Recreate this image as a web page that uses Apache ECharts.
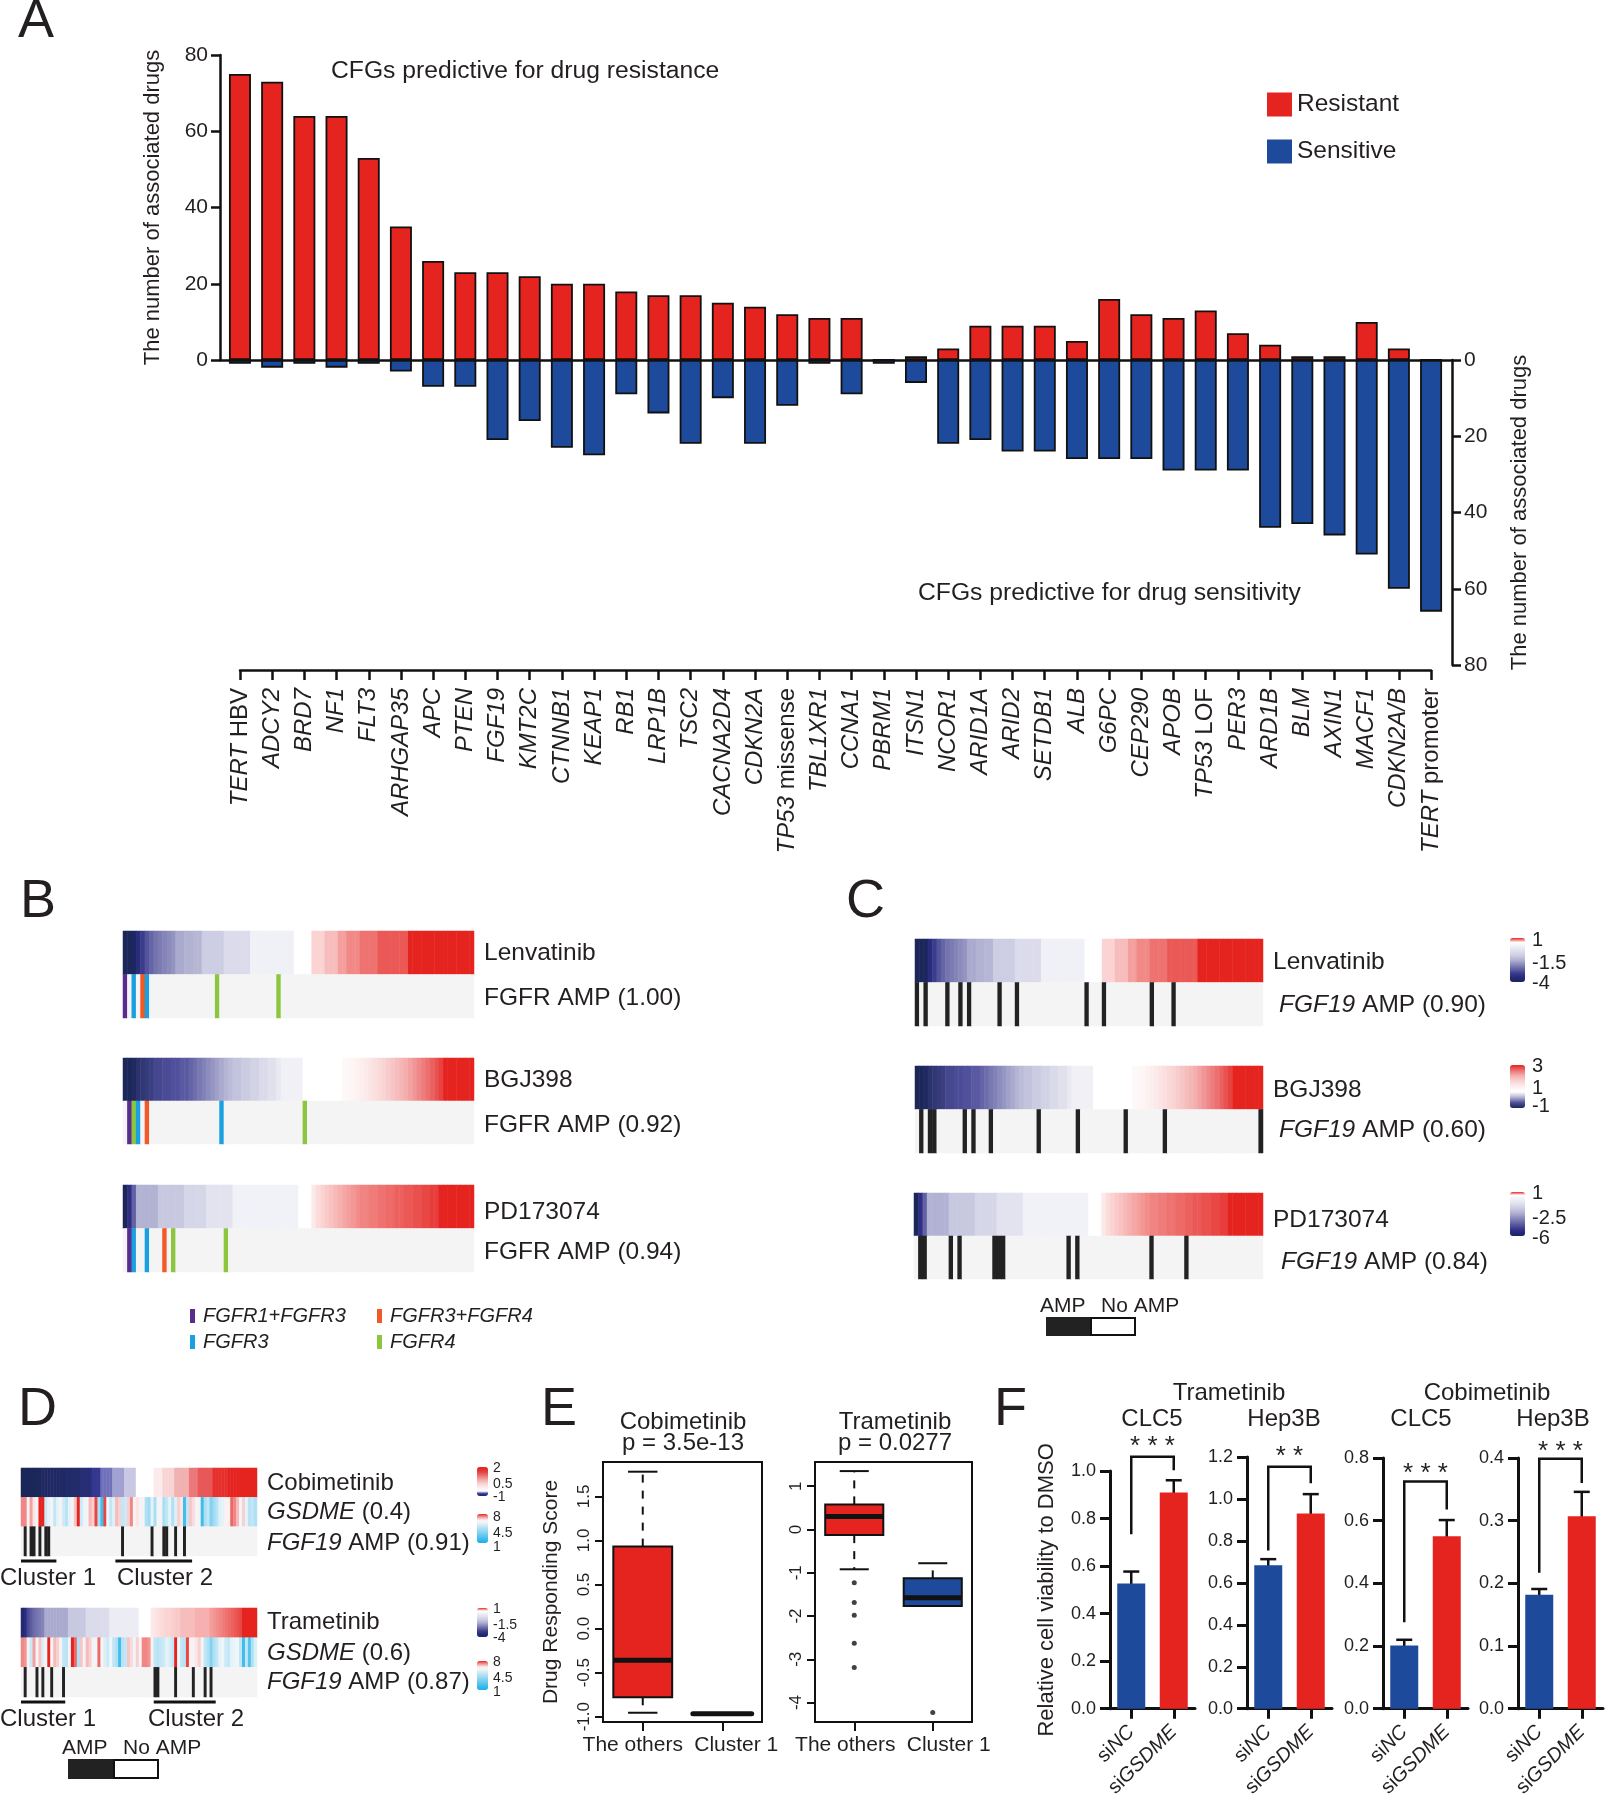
<!DOCTYPE html>
<html><head><meta charset="utf-8"><title>CFG drug response figure</title>
<script src="https://cdn.jsdelivr.net/npm/echarts@6/dist/echarts.min.js"></script>
<style>html,body{margin:0;padding:0;background:#fff;}#chart{width:1605px;height:1800px;}</style>
</head><body><div id="chart"></div>
<script>
// ================= DATA =================
// Panel A
const genesA = ['TERT HBV','ADCY2','BRD7','NF1','FLT3','ARHGAP35','APC','PTEN','FGF19','KMT2C','CTNNB1','KEAP1','RB1','LRP1B','TSC2','CACNA2D4','CDKN2A','TP53 missense','TBL1XR1','CCNA1','PBRM1','ITSN1','NCOR1','ARID1A','ARID2','SETDB1','ALB','G6PC','CEP290','APOB','TP53 LOF','PER3','ARD1B','BLM','AXIN1','MACF1','CDKN2A/B','TERT promoter'];
const resistantA = [75,73,64,64,53,35,26,23,23,22,20,20,18,17,17,15,14,12,11,11,0,1,3,9,9,9,5,16,12,11,13,7,4,1,1,10,3,0];
const sensitiveA = [1,2,1,2,1,3,7,7,21,16,23,25,9,14,22,10,22,12,1,9,1,6,22,21,24,24,26,26,26,29,29,29,44,43,46,51,60,66];

// Panels B/C: sorted drug responding scores of the cell lines
const lenvatinib = [-4,-4,-3.9,-3.4,-3.0,-2.7,-2.5,-2.3,-2.2,-2.1,-2.0,-1.9,-1.6,-1.6,-1.5,-1.5,-1.4,-1.4,-1.0,-1.0,-1.0,-1.0,-1.0,-0.6,-0.6,-0.6,-0.6,-0.6,-0.6,0.05,0.05,0.05,0.05,0.05,0.05,0.05,0.05,0.05,0.05,0.5,0.5,0.5,0.5,0.6,0.6,0.6,0.65,0.65,0.65,0.72,0.72,0.77,0.77,0.77,0.82,0.82,0.82,0.82,0.88,0.88,0.88,0.88,0.88,0.88,0.88,1,1,1,1,1,1,1,1,1,1,1,1,1,1,1];
const bgj398 = [-1,-1,-0.95,-0.85,-0.8,-0.75,-0.7,-0.6,-0.6,-0.55,-0.55,-0.5,-0.5,-0.45,-0.45,-0.4,-0.35,-0.3,-0.25,-0.2,-0.15,-0.1,-0.05,0,0.05,0.1,0.1,0.15,0.15,0.2,0.2,0.25,0.25,0.3,0.3,0.35,0.4,0.4,0.4,0.4,0.4,0.5,0.5,0.5,0.5,0.5,0.5,0.5,0.5,0.5,0.7,0.75,0.8,0.9,1.0,1.1,1.2,1.3,1.4,1.5,1.6,1.7,1.8,1.9,2.0,2.1,2.2,2.3,2.4,2.5,2.6,2.7,2.8,3,3,3,3,3,3,3];
const pd173074 = [-6,-5.2,-4,-2.3,-2.3,-2.3,-2.3,-2.3,-1.7,-1.7,-1.7,-1.7,-1.7,-1.7,-1.2,-1.2,-1.2,-1.2,-1.2,-0.7,-0.7,-0.7,-0.7,-0.7,-0.7,-0.1,-0.1,-0.1,-0.1,-0.1,-0.1,-0.1,-0.1,-0.1,-0.1,-0.1,-0.1,-0.1,-0.1,-0.1,0.5,0.5,0.5,0.55,0.58,0.6,0.62,0.64,0.66,0.68,0.7,0.72,0.74,0.76,0.78,0.78,0.8,0.8,0.82,0.82,0.84,0.84,0.86,0.86,0.88,0.88,0.9,0.9,0.92,0.92,0.94,0.94,1,1,1,1,1,1,1,1];
// FGFR amplification type per sample: [sample, type] (1 FGFR1+FGFR3, 2 FGFR3, 3 FGFR3+FGFR4, 4 FGFR4)
const fgfrLenvatinib = [[0,1],[2,2],[4,3],[5,2],[21,4],[35,4]];
const fgfrBGJ398 = [[1,1],[2,4],[3,2],[5,3],[22,2],[41,4]];
const fgfrPD173074 = [[1,1],[2,2],[5,2],[9,3],[11,4],[23,4]];
// FGF19 amplified samples
const fgf19Lenvatinib = [0,2,7,10,12,19,23,39,43,54,59];
const fgf19BGJ398 = [1,3,4,11,13,17,28,37,48,57,79];
const fgf19PD173074 = [1,2,8,10,18,19,20,35,37,54,62];

// Panel D
const cobimetinibD = [-1,-1,-1,-1,-1,-1,-1,-0.97,-0.97,-0.97,-0.97,-0.97,-0.97,-0.97,-0.97,-0.94,-0.94,-0.94,-0.94,-0.94,-0.9,-0.9,-0.9,-0.9,-0.8,-0.8,-0.8,-0.68,-0.68,-0.68,-0.68,-0.62,-0.62,-0.62,-0.62,-0.57,-0.57,-0.57,-0.57,-0.5,-0.5,-0.5,-0.5,-0.5,-0.5,-0.1,-0.1,-0.1,0.25,0.25,0.25,0.25,0.6,0.6,0.6,0.6,0.6,1.05,1.05,1.05,1.3,1.3,1.3,1.3,1.3,1.7,1.7,1.7,1.7,1.7,2,2,2,2,2,2,2,2,2,2];
const trametinibD = [-3.6,-3.4,-2.8,-2.6,-2.4,-2.3,-2.2,-2.1,-1.6,-1.6,-1.6,-1.6,-1.6,-1.6,-1.6,-1.6,-1.1,-1.1,-1.1,-1.1,-1.1,-1.1,-0.6,-0.6,-0.6,-0.6,-0.6,-0.6,-0.6,-0.6,-0.05,-0.05,-0.05,-0.05,-0.05,-0.05,-0.05,-0.05,-0.05,-0.05,0.5,0.5,0.5,0.5,0.55,0.56,0.57,0.58,0.59,0.6,0.6,0.61,0.62,0.62,0.65,0.65,0.65,0.65,0.65,0.68,0.68,0.68,0.68,0.68,0.72,0.74,0.76,0.78,0.8,0.82,0.84,0.86,0.88,0.9,0.92,1,1,1,1,1];
const gsdmeCobi = [7.4,7.4,6.3,7.2,6.6,6.2,8,8,5.2,5.8, 6.2,5.0,5.8,6.2,5.3,4.8,5.8,6.2,6.9,8, 5.2,5.9,6.2,7.0,6.8,7.8,4.5,2,7.8,6.0, 5.0,5.6,7.0,6.8,5.0,5.2,6.8,7.4,6.3,6.6, 6.3,6.2,4.6,4.2,5.8,4.4,6.2,6.3,4.4,5.0, 5.8,4.6,5.6,6.8,6.6,2.0,5.0,6.9,6.7,6.1, 6.3,2,4.5,5.0,3.5,4.2,4.8,5.6,5.8,6.5, 6.3,7.6,7.4,7.0,6.2,6.8,5.8,4.8,5.0,4.6];
const gsdmeTram = [7.4,7.3,6.3,5.2,7.2,6.3,6.9,5.6,6.2,8, 6.2,7.0,6.8,6.3,5.0,4.8,6.0,8,7.6,4.6, 6.9,6.1,7.0,6.8,6.3,6.0,7.6,6.3,5.6,5.2, 6.0,5.0,4.6,2,4.8,5.0,6.9,6.7,6.1,6.8, 6.3,7.4,7.4,7.3,6.3,5.0,4.8,5.0,5.2,5.8, 5.5,5.0,8,6.0,5.0,4.8,7.8,6.5,6.3,6.6, 6.8,6.1,5.0,4.6,3.5,4.6,5.0,5.8,6.0,5.2, 5.0,5.8,5.9,6.0,5.0,2,5.0,2.5,4.6,5.6];
const fgf19Cobi = [1,3,4,6,8,9,34,44,48,49,52,55];
const fgf19Tram = [1,5,7,10,14,45,46,52,58,62,64];
const clustersCobi = [[0,11],[32,57]];
const clustersTram = [[0,14],[45,65]];

// Panel E: [lower whisker, Q1, median, Q3, upper whisker]
const eGroups = ['The others','Cluster 1'];
const eCobiBox = [[-0.955,-0.78,-0.36,0.93,1.78],[-0.965,-0.965,-0.965,-0.965,-0.965]];
const eTramBox = [[-0.92,-0.13,0.30,0.58,1.35],[-1.77,-1.77,-1.58,-1.13,-0.78]];
const eTramOutliers = [[0,-1.23],[0,-1.69],[0,-1.98],[0,-2.63],[0,-3.19],[1,-4.23]];
const eCobiTicks = [-1.0,-0.5,0.0,0.5,1.0,1.5];
const eTramTicks = [-4,-3,-2,-1,0,1];

// Panel F
const fGroups = ['siNC','siGSDME'];
const fSiNC = [0.527,0.684,0.202,0.182];
const fSiNCsd = [0.05,0.029,0.018,0.009];
const fSiGSDME = [0.91,0.931,0.55,0.307];
const fSiGSDMEsd = [0.051,0.092,0.052,0.039];
const fBracket = [[0.734,1.06,1.003],[0.754,1.153,1.075],[0.276,0.725,0.636],[0.217,0.399,0.36]];
const fStarY = [1.1,1.2,0.75,0.41];
const fSig = ['***','**','***','***'];
const fYMax = [1.0,1.2,0.8,0.4];
const fYInterval = [0.2,0.2,0.2,0.1];

// ================= STYLE =================
const FONT = 'Liberation Sans, Arial, Helvetica, sans-serif';
const INK = '#231f20';
const RED = '#e52420', BLUE = '#1e4a9c';
const sampleIds = lenvatinib.map((_, i) => 'S' + i);

const LENV_COLORS = ['#1b2659','#232a78','#3c3c8c','#6464a6','#8c8cbc','#b2b2d2','#cdcde3','#dedeed','#eeeef6','#ffffff','#e52420'];
const BGJ_COLORS = ['#1b2659','#50509c','#b4b4d4','#ffffff','#fdeeee','#f9d4d4','#f4aeae','#ec7070','#e52420'];
const PD_COLORS = ['#1b2659','#24287a','#343488','#4a4a96','#6262a4','#7a7ab2','#9292c0','#aaaace','#bebedb','#cecee4','#dcdcec','#e8e8f3','#f3f3f9','#ffffff','#e52420'];
const COBI_COLORS = ['#1b2659','#3a3aa0','#ffffff','#fdf2f2','#fbe6e6','#f8d4d4','#f4bcbc','#f0a0a0','#ec8080','#e95e5e','#e64040','#e52c28','#e52420'];
const GSDME_COLORS = ['#1ab0ea','#2bb6eb','#3fbdec','#55c4ed','#6bcbef','#82d2f0','#99d9f1','#acdff3','#c2e6f5','#d8eef7','#eef6fa','#fdf0f0','#f6baba','#ee7a78','#e52420'];

const option = {animation:false, backgroundColor:'#fff', textStyle:{fontFamily:FONT},
  grid:[], xAxis:[], yAxis:[], series:[], visualMap:[], graphic:{elements:[]}};
const addGrid = g => (option.grid.push(g), option.grid.length - 1);
const addX = a => (option.xAxis.push(a), option.xAxis.length - 1);
const addY = a => (option.yAxis.push(a), option.yAxis.length - 1);
const addS = s => (option.series.push(s), option.series.length - 1);
const G = el => option.graphic.elements.push(el);
const lineSt = w => ({color:'#111', width:w});
const richI = size => ({i:{fontStyle:'italic', fontSize:size, fontFamily:FONT, color:INK}, n:{fontSize:size, fontFamily:FONT, color:INK}});
const geneLabel = name => {
  const p = name.indexOf(' ');
  return p < 0 ? '{i|' + name + '}' : '{i|' + name.slice(0, p) + '}{n| ' + name.slice(p + 1) + '}';
};

function T(x, y, text, size, o = {}) {
  G({type:'text', x, y, silent:true, rotation:o.rot || 0, z:10,
    style:{text, fontSize:size, fontFamily:FONT, fontStyle:o.italic ? 'italic' : 'normal', fontWeight:'normal',
      fill:o.fill || INK, align:o.align || 'left', textAlign:o.align || 'left', verticalAlign:o.va || 'middle', textVerticalAlign:o.va || 'middle',
      rich:{i:{fontStyle:'italic', fontSize:size, fontFamily:FONT, fill:INK}, n:{fontSize:size, fontFamily:FONT, fill:INK}}}});
}
function Rct(x, y, w, h, fill, stroke) {
  G({type:'rect', silent:true, z:10, shape:{x, y, width:w, height:h}, style:{fill, stroke:stroke || null, lineWidth:stroke ? 2 : 0}});
}

// ================= PANEL A =================
const gA1 = addGrid({left:220, top:55, width:1232, height:305});
const gA2 = addGrid({left:220, top:360, width:1232, height:305});
const gA3 = addGrid({left:240, top:665, width:1191, height:1});
const xA1 = addX({type:'value', gridIndex:gA1, min:-0.62, max:37.65, axisLine:{show:true, onZero:false, lineStyle:lineSt(2.5)}, axisTick:{show:false}, axisLabel:{show:false}, splitLine:{show:false}});
const xA2 = addX({type:'value', gridIndex:gA2, min:-0.62, max:37.65, show:false, splitLine:{show:false}});
addX({type:'value', gridIndex:gA3, min:0, max:genesA.length - 1, interval:1, position:'bottom', offset:4,
  axisLine:{show:true, onZero:false, lineStyle:lineSt(2.5)}, axisTick:{show:true, length:10, lineStyle:lineSt(2.5)},
  axisLabel:{rotate:90, margin:18, fontSize:24, color:INK, fontFamily:FONT, formatter:v => geneLabel(genesA[v]), rich:richI(24)}, splitLine:{show:false}});
const yA1 = addY({type:'value', gridIndex:gA1, min:0, max:80, interval:20, position:'left',
  axisLine:{show:true, onZero:false, lineStyle:lineSt(2.5)}, axisTick:{show:true, length:9, lineStyle:lineSt(2.5)},
  axisLabel:{fontSize:21, color:INK, fontFamily:FONT, margin:12}, splitLine:{show:false},
  name:'The number of associated drugs', nameLocation:'middle', nameGap:56, nameRotate:90, nameTextStyle:{fontSize:22, color:INK, fontFamily:FONT}});
const yA2 = addY({type:'value', gridIndex:gA2, min:0, max:80, interval:20, position:'right', inverse:true,
  axisLine:{show:true, onZero:false, lineStyle:lineSt(2.5)}, axisTick:{show:true, length:9, lineStyle:lineSt(2.5)},
  axisLabel:{fontSize:21, color:INK, fontFamily:FONT, margin:12}, splitLine:{show:false},
  name:'The number of associated drugs', nameLocation:'middle', nameGap:57, nameRotate:90, nameTextStyle:{fontSize:22, color:INK, fontFamily:FONT}});
addY({type:'value', gridIndex:gA3, min:0, max:1, show:false, splitLine:{show:false}});
addS({type:'bar', name:'Resistant', xAxisIndex:xA1, yAxisIndex:yA1, barWidth:22, clip:false, z:3,
  data:resistantA.map((v, i) => [i, v]), itemStyle:{color:RED, borderColor:'#111', borderWidth:1.8}});
addS({type:'bar', name:'Sensitive', xAxisIndex:xA2, yAxisIndex:yA2, barWidth:22, clip:false, z:3,
  data:sensitiveA.map((v, i) => [i, v]), itemStyle:{color:BLUE, borderColor:'#111', borderWidth:1.8}});
option.legend = {data:['Resistant','Sensitive'], orient:'vertical', left:1267, top:92, itemWidth:25, itemHeight:24, itemGap:22,
  icon:'rect', selectedMode:false, padding:0, itemStyle:{borderWidth:0}, textStyle:{fontSize:24.5, color:INK, fontFamily:FONT}};
T(18, 22, 'A', 54);
T(331, 71, 'CFGs predictive for drug resistance', 24.7);
T(918, 593, 'CFGs predictive for drug sensitivity', 24.7);

// ================= HEATMAP HELPERS =================
function heatGrid(left, top, width, height, rows) {
  const g = addGrid({left, top, width, height});
  const x = addX({type:'category', gridIndex:g, data:sampleIds, show:false, boundaryGap:true});
  const y = addY({type:'category', gridIndex:g, data:rows, show:false, boundaryGap:true});
  return {x, y};
}
function heatRow(ax, row, values) {
  return addS({type:'heatmap', xAxisIndex:ax.x, yAxisIndex:ax.y, data:values.map((v, i) => [i, row, v]), emphasis:{disabled:true}, silent:true});
}
function codeRow(marks) {
  const r = sampleIds.map(() => 0);
  marks.forEach(m => { if (Array.isArray(m)) r[m[0]] = m[1]; else r[m] = 1; });
  return r;
}

// ================= PANEL B =================
const bL = heatGrid(123, 931, 351, 87, ['amp','drug']);
const bB = heatGrid(123, 1058, 351, 86, ['amp','drug']);
const bP = heatGrid(123, 1185, 351, 87, ['amp','drug']);
const sBL = heatRow(bL, 1, lenvatinib), sBLa = heatRow(bL, 0, codeRow(fgfrLenvatinib));
const sBB = heatRow(bB, 1, bgj398), sBBa = heatRow(bB, 0, codeRow(fgfrBGJ398));
const sBP = heatRow(bP, 1, pd173074), sBPa = heatRow(bP, 0, codeRow(fgfrPD173074));
T(20, 902, 'B', 54);
T(484, 953, 'Lenvatinib', 24.5); T(484, 998, 'FGFR AMP (1.00)', 24.5);
T(484, 1080, 'BGJ398', 24.5); T(484, 1125, 'FGFR AMP (0.92)', 24.5);
T(484, 1212, 'PD173074', 24.5); T(484, 1252, 'FGFR AMP (0.94)', 24.5);
Rct(190, 1309, 5, 14, '#5b2c8f'); T(203, 1316, 'FGFR1+FGFR3', 20, {italic:true});
Rct(377, 1309, 5, 14, '#f15a24'); T(390, 1316, 'FGFR3+FGFR4', 20, {italic:true});
Rct(190, 1335, 5, 14, '#1aa0e0'); T(203, 1342, 'FGFR3', 20, {italic:true});
Rct(377, 1335, 5, 14, '#8cc63e'); T(390, 1342, 'FGFR4', 20, {italic:true});

// ================= PANEL C =================
const cL = heatGrid(915, 939, 348, 87, ['amp','drug']);
const cB = heatGrid(915, 1066, 348, 87, ['amp','drug']);
const cP = heatGrid(914, 1193, 349, 86, ['amp','drug']);
const sCL = heatRow(cL, 1, lenvatinib), sCLa = heatRow(cL, 0, codeRow(fgf19Lenvatinib));
const sCB = heatRow(cB, 1, bgj398), sCBa = heatRow(cB, 0, codeRow(fgf19BGJ398));
const sCP = heatRow(cP, 1, pd173074), sCPa = heatRow(cP, 0, codeRow(fgf19PD173074));
T(846, 902, 'C', 54);
T(1273, 962, 'Lenvatinib', 24.5); T(1279, 1005, '{i|FGF19} AMP (0.90)', 24.5);
T(1273, 1090, 'BGJ398', 24.5); T(1279, 1130, '{i|FGF19} AMP (0.60)', 24.5);
T(1273, 1220, 'PD173074', 24.5); T(1281, 1262, '{i|FGF19} AMP (0.84)', 24.5);
T(1532, 940, '1', 20); T(1532, 963, '-1.5', 20); T(1532, 983, '-4', 20);
T(1532, 1066, '3', 20); T(1532, 1088, '1', 20); T(1532, 1106, '-1', 20);
T(1532, 1193, '1', 20); T(1532, 1218, '-2.5', 20); T(1532, 1238, '-6', 20);
T(1040, 1306, 'AMP', 21); T(1101, 1306, 'No AMP', 21);
Rct(1046, 1317, 45, 19, '#222'); Rct(1091, 1318, 44, 17, '#fff', '#111');

// ================= PANEL D =================
const dC = heatGrid(21, 1468, 236, 88, ['amp','gsdme','drug']);
const dT = heatGrid(21, 1608, 236, 89, ['amp','gsdme','drug']);
const sDC = heatRow(dC, 2, cobimetinibD), sDCg = heatRow(dC, 1, gsdmeCobi), sDCa = heatRow(dC, 0, codeRow(fgf19Cobi));
const sDT = heatRow(dT, 2, trametinibD), sDTg = heatRow(dT, 1, gsdmeTram), sDTa = heatRow(dT, 0, codeRow(fgf19Tram));
function clusterLines(ax, data) {
  addS({type:'custom', xAxisIndex:ax.x, yAxisIndex:ax.y, data, silent:true, clip:false,
    renderItem:(p, api) => {
      const s = api.coord([api.value(0), 0]), e = api.coord([api.value(1), 0]);
      const sz = api.size([1, 1]);
      const y = s[1] + sz[1] / 2 + 5;
      return {type:'line', shape:{x1:s[0] - sz[0] / 2, y1:y, x2:e[0] + sz[0] / 2, y2:y}, style:{stroke:'#111', lineWidth:3}};
    }});
}
clusterLines(dC, clustersCobi);
clusterLines(dT, clustersTram);
T(18, 1410, 'D', 54);
T(267, 1483, 'Cobimetinib', 24); T(267, 1512, '{i|GSDME} (0.4)', 24); T(267, 1543, '{i|FGF19} AMP (0.91)', 24);
T(267, 1622, 'Trametinib', 24); T(267, 1653, '{i|GSDME} (0.6)', 24); T(267, 1682, '{i|FGF19} AMP (0.87)', 24);
T(0, 1578, 'Cluster 1', 24); T(117, 1578, 'Cluster 2', 24);
T(0, 1719, 'Cluster 1', 24); T(148, 1719, 'Cluster 2', 24);
T(493, 1468, '2', 14); T(493, 1484, '0.5', 14); T(493, 1497, '-1', 14);
T(493, 1517, '8', 14); T(493, 1533, '4.5', 14); T(493, 1547, '1', 14);
T(493, 1609, '1', 14); T(493, 1625, '-1.5', 14); T(493, 1638, '-4', 14);
T(493, 1662, '8', 14); T(493, 1678, '4.5', 14); T(493, 1692, '1', 14);
T(62, 1748, 'AMP', 21); T(123, 1748, 'No AMP', 21);
Rct(68, 1759, 46, 20, '#222'); Rct(114, 1760, 44, 18, '#fff', '#111');

// ================= VISUAL MAPS =================
const cbar = (left, top, w, h) => ({show:true, orient:'vertical', left, top, itemWidth:w, itemHeight:h, padding:0, calculable:false, hoverLink:false, textStyle:{fontSize:1}});
option.visualMap.push(Object.assign({type:'continuous', seriesIndex:[sBL, sCL], dimension:2, min:-4, max:1, inRange:{color:LENV_COLORS}}, cbar(1510, 938, 15, 44)));
option.visualMap.push(Object.assign({type:'continuous', seriesIndex:[sBB, sCB], dimension:2, min:-1, max:3, inRange:{color:BGJ_COLORS}}, cbar(1510, 1065, 15, 43)));
option.visualMap.push(Object.assign({type:'continuous', seriesIndex:[sBP, sCP], dimension:2, min:-6, max:1, inRange:{color:PD_COLORS}}, cbar(1510, 1192, 15, 44)));
option.visualMap.push(Object.assign({type:'continuous', seriesIndex:[sDC], dimension:2, min:-1, max:2, inRange:{color:COBI_COLORS}}, cbar(477, 1467, 11, 29)));
option.visualMap.push(Object.assign({type:'continuous', seriesIndex:[sDCg], dimension:2, min:1, max:8, inRange:{color:GSDME_COLORS}}, cbar(477, 1514, 11, 29)));
option.visualMap.push(Object.assign({type:'continuous', seriesIndex:[sDT], dimension:2, min:-4, max:1, inRange:{color:LENV_COLORS}}, cbar(477, 1608, 11, 29)));
option.visualMap.push(Object.assign({type:'continuous', seriesIndex:[sDTg], dimension:2, min:1, max:8, inRange:{color:GSDME_COLORS}}, cbar(477, 1661, 11, 29)));
option.visualMap.push({type:'piecewise', show:false, dimension:2, seriesIndex:[sBLa, sBBa, sBPa],
  pieces:[{value:0, color:'#f4f4f4'}, {value:1, color:'#5b2c8f'}, {value:2, color:'#1aa0e0'}, {value:3, color:'#f15a24'}, {value:4, color:'#8cc63e'}]});
option.visualMap.push({type:'piecewise', show:false, dimension:2, seriesIndex:[sCLa, sCBa, sCPa, sDCa, sDTa],
  pieces:[{value:0, color:'#f4f4f4'}, {value:1, color:'#222222'}]});

// ================= PANEL E =================
function boxRender(colors) {
  return (params, api) => {
    const x = api.value(0);
    const ys = [1, 2, 3, 4, 5].map(k => api.coord([x, api.value(k)])[1]);
    const [lo, q1, md, q3, hi] = ys;
    const cx = api.coord([x, api.value(3)])[0];
    const bw = api.size([1, 0])[0] * 0.74, half = bw / 2, cap = bw / 4;
    const ln = (x1, y1, x2, y2, st) => ({type:'line', shape:{x1, y1, x2, y2}, style:Object.assign({stroke:'#111', lineWidth:2}, st || {})});
    const ch = [];
    if (q3 - hi > 1) { ch.push(ln(cx, q3, cx, hi, {lineDash:[8, 8]})); ch.push(ln(cx - cap, hi, cx + cap, hi)); }
    if (lo - q1 > 1) { ch.push(ln(cx, q1, cx, lo, {lineDash:[8, 8]})); ch.push(ln(cx - cap, lo, cx + cap, lo)); }
    ch.push({type:'rect', shape:{x:cx - half, y:q3, width:bw, height:Math.max(q1 - q3, 0)}, style:{fill:colors[params.dataIndex], stroke:'#111', lineWidth:2}});
    ch.push(ln(cx - half, md, cx + half, md, {lineWidth:5, lineCap:(q1 - q3 < 1 ? 'round' : 'butt')}));
    return {type:'group', children:ch};
  };
}
function ePanel(left, width, min, max, ticks, fmt, box, colors, withName, pads) {
  const g = addGrid({left, top:1462, width, height:260, show:true, borderColor:'#111', borderWidth:2});
  const x = addX({type:'category', gridIndex:g, data:eGroups, axisLine:{show:false, onZero:false},
    axisTick:{show:true, alignWithLabel:true, length:9, lineStyle:lineSt(2)},
    axisLabel:{fontSize:21, color:INK, fontFamily:FONT, margin:13, interval:0,
      formatter:(v, i) => '{g' + i + '|' + v + '}',
      rich:{g0:{fontSize:21, fontFamily:FONT, color:INK, padding:pads[0]}, g1:{fontSize:21, fontFamily:FONT, color:INK, padding:pads[1]}}}});
  const yo = {type:'value', gridIndex:g, min, max, axisLine:{show:false, onZero:false}, splitLine:{show:false},
    axisTick:{show:true, length:8, lineStyle:lineSt(2), customValues:ticks},
    axisLabel:{customValues:ticks, rotate:90, fontSize:17, color:INK, fontFamily:FONT, margin:10, formatter:fmt}};
  if (withName) Object.assign(yo, {name:'Drug Responding Score', nameLocation:'middle', nameGap:41, nameRotate:90, nameTextStyle:{fontSize:21, color:INK, fontFamily:FONT}});
  const y = addY(yo);
  addS({type:'custom', xAxisIndex:x, yAxisIndex:y, clip:false, silent:true, renderItem:boxRender(colors), data:box.map((b, i) => [i].concat(b))});
  return {x, y};
}
const eC = ePanel(603, 159, -1.06, 1.89, eCobiTicks, v => v.toFixed(1), eCobiBox, [RED, '#111'], true, [[0,20,0,0],[0,0,0,28]]);
const eT = ePanel(815, 157, -4.45, 1.56, eTramTicks, v => String(v), eTramBox, [RED, BLUE], false, [[0,18,0,0],[0,0,0,32]]);
addS({type:'scatter', xAxisIndex:eT.x, yAxisIndex:eT.y, data:eTramOutliers, symbolSize:5, itemStyle:{color:'#111'}, silent:true});
T(541, 1410, 'E', 54);
T(683, 1422, 'Cobimetinib', 24, {align:'center'}); T(683, 1443, 'p = 3.5e-13', 24, {align:'center'});
T(895, 1422, 'Trametinib', 24, {align:'center'}); T(895, 1443, 'p = 0.0277', 24, {align:'center'});

// ================= PANEL F =================
const fLefts = [1110, 1247, 1383, 1518];
const fTops = [1471, 1457, 1458, 1458];
fLefts.forEach((left, k) => {
  const g = addGrid({left, top:fTops[k], width:85, height:1712 - fTops[k]});
  const x = addX({type:'category', gridIndex:g, data:fGroups,
    axisLine:{show:true, onZero:false, lineStyle:lineSt(3)}, axisTick:{show:true, alignWithLabel:true, length:10, lineStyle:lineSt(3)},
    axisLabel:{rotate:45, margin:20, interval:0, fontSize:20, color:INK, fontFamily:FONT,
      formatter:v => '{n|si}{i|' + v.slice(2) + '}', rich:richI(20)}});
  const yo = {type:'value', gridIndex:g, min:0, max:fYMax[k], interval:fYInterval[k], splitLine:{show:false},
    axisLine:{show:true, onZero:false, lineStyle:lineSt(3)}, axisTick:{show:true, length:10, lineStyle:lineSt(3)},
    axisLabel:{fontSize:18, color:INK, fontFamily:FONT, margin:14, formatter:v => v.toFixed(1)}};
  if (k === 0) Object.assign(yo, {name:'Relative cell viability to DMSO', nameLocation:'middle', nameGap:52, nameRotate:90, nameTextStyle:{fontSize:22, color:INK, fontFamily:FONT}});
  const y = addY(yo);
  addS({type:'bar', xAxisIndex:x, yAxisIndex:y, barWidth:28, silent:true,
    data:[{value:fSiNC[k], itemStyle:{color:BLUE}}, {value:fSiGSDME[k], itemStyle:{color:RED}}]});
  addS({type:'custom', xAxisIndex:x, yAxisIndex:y, silent:true, clip:false,
    data:[[0, fSiNC[k] - fSiNCsd[k], fSiNC[k] + fSiNCsd[k]], [1, fSiGSDME[k] - fSiGSDMEsd[k], fSiGSDME[k] + fSiGSDMEsd[k]]],
    renderItem:(p, api) => {
      const a = api.coord([api.value(0), api.value(1)]), b = api.coord([api.value(0), api.value(2)]);
      const st = {stroke:'#111', lineWidth:2.5};
      return {type:'group', children:[
        {type:'line', shape:{x1:a[0], y1:a[1], x2:b[0], y2:b[1]}, style:st},
        {type:'line', shape:{x1:a[0] - 8, y1:a[1], x2:a[0] + 8, y2:a[1]}, style:st},
        {type:'line', shape:{x1:b[0] - 8, y1:b[1], x2:b[0] + 8, y2:b[1]}, style:st}]};
    }});
  addS({type:'custom', xAxisIndex:x, yAxisIndex:y, silent:true, clip:false,
    data:[fBracket[k].concat([fStarY[k]])],
    renderItem:(p, api) => {
      const p1 = api.coord([0, api.value(0)]), p2 = api.coord([0, api.value(1)]);
      const p3 = api.coord([1, api.value(1)]), p4 = api.coord([1, api.value(2)]);
      const ps = api.coord([0.5, api.value(3)]);
      return {type:'group', children:[
        {type:'polyline', shape:{points:[p1, p2, p3, p4]}, style:{stroke:'#111', lineWidth:2.5, fill:null}},
        {type:'text', x:(p2[0] + p3[0]) / 2, y:ps[1], style:{text:fSig[k].split('').join(' '), fontSize:26, fontFamily:FONT, fill:INK, align:'center', verticalAlign:'middle'}}]};
    }});
});
T(994, 1410, 'F', 54);
T(1229, 1393, 'Trametinib', 24, {align:'center'}); T(1487, 1393, 'Cobimetinib', 24, {align:'center'});
T(1152, 1419, 'CLC5', 24, {align:'center'}); T(1284, 1419, 'Hep3B', 24, {align:'center'});
T(1421, 1419, 'CLC5', 24, {align:'center'}); T(1553, 1419, 'Hep3B', 24, {align:'center'});

const chart = echarts.init(document.getElementById('chart'), null, {renderer:'canvas', width:1605, height:1800});
chart.setOption(option);
</script></body></html>
